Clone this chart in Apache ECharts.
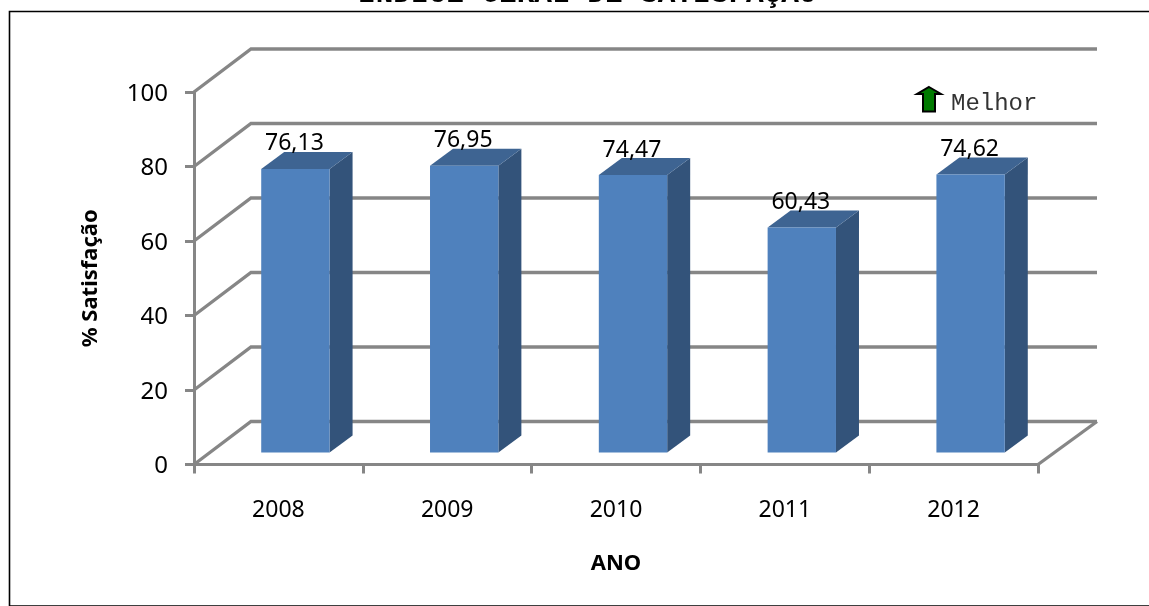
<!DOCTYPE html>
<html>
<head>
<meta charset="utf-8">
<style>html,body{margin:0;padding:0;background:#fff}#c{width:1149px;height:606px}</style>
<script src="https://cdn.jsdelivr.net/npm/echarts@6/dist/echarts.min.js"></script>
</head>
<body>
<div id="c"></div>
<script>
const categories = ['2008', '2009', '2010', '2011', '2012'];
const satisfaction = [76.13, 76.95, 74.47, 60.43, 74.62];
const gridTicks = [0, 20, 40, 60, 80, 100];
const titleText = 'ÍNDICE GERAL DE SATISFAÇÃO';
const yAxisName = '% Satisfação';
const xAxisName = 'ANO';
const noteText = 'Melhor';

const LINE = '#868686';
const WALL_DX = 57, WALL_DY = 43;
const BAR_DX = 17, BAR_DY = 12, DEPTH_DX = 23, DEPTH_DY = 17;
const FONT = '"Noto Sans"';

function renderWall(params, api) {
  const v = api.value(1);
  const cs = params.coordSys;
  const y = api.coord([0, v])[1];
  const style = { stroke: LINE, fill: 'none', lineWidth: 3.3, lineJoin: 'miter' };
  const children = [{
    type: 'polyline',
    shape: { points: [[cs.x, y], [cs.x + WALL_DX, y - WALL_DY], [cs.x + cs.width + 59, y - WALL_DY]] },
    style
  }];
  if (v === 0) {
    children.push({
      type: 'line',
      shape: { x1: cs.x + cs.width, y1: y, x2: cs.x + cs.width + 59, y2: y - WALL_DY },
      style
    });
  }
  return { type: 'group', children };
}

function renderBar(params, api) {
  const i = api.value(0), v = api.value(1);
  const c = api.coord([i, v]);
  const base = api.coord([i, 0]);
  const w = api.size([1, 0])[0] * 0.405;
  const x0 = c[0] + BAR_DX - w / 2, x1 = x0 + w;
  const yT = c[1] - BAR_DY, yB = base[1] - BAR_DY;
  return {
    type: 'group',
    children: [
      { type: 'polygon', shape: { points: [[x1, yT], [x1 + DEPTH_DX, yT - DEPTH_DY], [x1 + DEPTH_DX, yB - DEPTH_DY], [x1, yB]] }, style: { fill: '#33537A' } },
      { type: 'polygon', shape: { points: [[x0, yT], [x0 + DEPTH_DX, yT - DEPTH_DY], [x1 + DEPTH_DX, yT - DEPTH_DY], [x1, yT]] }, style: { fill: '#3E6492' } },
      { type: 'rect', shape: { x: x0, y: yT, width: w, height: yB - yT }, style: { fill: '#4F81BD' } },
      { type: 'text', style: {
          x: x0 + w / 2 - 1, y: yT - 25,
          text: v.toFixed(2).replace('.', ','),
          font: '23px ' + FONT, fill: '#000',
          align: 'center', verticalAlign: 'middle'
        }, z2: 10 }
    ]
  };
}

const chart = echarts.init(document.getElementById('c'), null, { renderer: 'canvas' });
chart.setOption({
  animation: false,
  backgroundColor: '#fff',
  title: {
    text: titleText, left: 358, top: -20, padding: 0,
    textStyle: { fontFamily: '"Liberation Mono"', fontWeight: 'bold', fontSize: 29.4, color: '#000' }
  },
  grid: { left: 194, top: 92, width: 844, height: 372.5 },
  xAxis: {
    type: 'category', data: categories,
    name: xAxisName, nameLocation: 'middle', nameGap: 88,
    nameTextStyle: { fontFamily: FONT, fontWeight: 'bold', fontSize: 22, color: '#000' },
    axisLine: { show: true, lineStyle: { color: LINE, width: 3 } },
    axisTick: { show: true, length: 9, lineStyle: { color: LINE, width: 3 } },
    axisLabel: { fontFamily: FONT, fontSize: 23, color: '#000', margin: 34 },
    splitLine: { show: false }
  },
  yAxis: {
    type: 'value', min: 0, max: 100, interval: 20,
    name: yAxisName, nameLocation: 'middle', nameGap: 92, nameRotate: 90,
    nameTextStyle: { fontFamily: FONT, fontWeight: 'bold', fontSize: 22, color: '#000' },
    axisLine: { show: true, lineStyle: { color: LINE, width: 3 } },
    axisTick: { show: true, length: 9, lineStyle: { color: LINE, width: 3 } },
    axisLabel: { fontFamily: FONT, fontSize: 24, color: '#000', margin: 26, verticalAlign: 'top', lineHeight: 4 },
    splitLine: { show: false }
  },
  series: [
    { type: 'custom', silent: true, z: 1, renderItem: renderWall,
      data: gridTicks.map(t => [0, t]), encode: { x: 0, y: 1 } },
    { type: 'custom', silent: true, z: 3, renderItem: renderBar,
      data: satisfaction.map((v, i) => [i, v]), encode: { x: 0, y: 1 } }
  ],
  graphic: [
    { type: 'rect', silent: true, z: 0, shape: { x: 9.5, y: 11.5, width: 1200, height: 594.5 },
      style: { fill: 'none', stroke: '#000', lineWidth: 1.6 } },
    { type: 'polygon', silent: true, z: 10,
      shape: { points: [[929, 87], [941, 94], [935, 94], [935, 111.5], [923, 111.5], [923, 94], [917, 94]] },
      style: { fill: '#007A00', stroke: '#000', lineWidth: 2 } },
    { type: 'text', silent: true, z: 10, left: 951, top: 92,
      style: { text: noteText, font: '24px "Liberation Mono"', fill: '#333' } }
  ]
});
</script>
</body>
</html>
